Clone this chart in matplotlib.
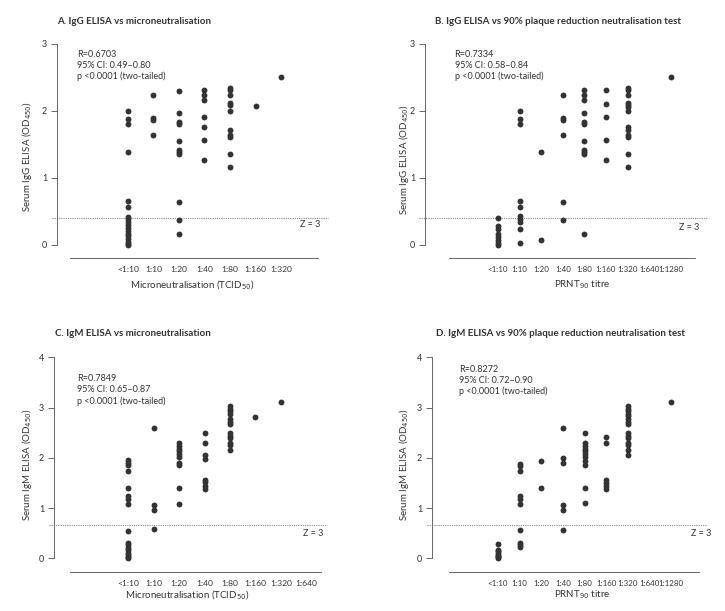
# scatter panels: ELISA OD vs neutralisation titres
import numpy as np
import matplotlib
matplotlib.use('Agg')
import matplotlib.pyplot as plt
import matplotlib.transforms as mtransforms

# data
mn_labels_a = ['<1:10', '1:10', '1:20', '1:40', '1:80', '1:160', '1:320']
mn_labels_c = ['<1:10', '1:10', '1:20', '1:40', '1:80', '1:160', '1:320', '1:640']
prnt_labels = ['<1:10', '1:10', '1:20', '1:40', '1:80', '1:160', '1:320', '1:640', '1:1280']

igg_mn = [
    [1.99, 1.87, 1.81, 1.38, 0.65, 0.56, 0.42, 0.38, 0.34, 0.29, 0.25, 0.21, 0.17,
     0.13, 0.09, 0.05, 0.02, 0.0],
    [2.23, 1.89, 1.86, 1.64],
    [2.30, 1.96, 1.83, 1.80, 1.55, 1.42, 1.38, 1.35, 0.64, 0.37, 0.16],
    [2.31, 2.23, 2.16, 1.90, 1.76, 1.56, 1.26],
    [2.34, 2.31, 2.23, 2.11, 2.09, 1.99, 1.71, 1.64, 1.61, 1.36, 1.16],
    [2.07],
    [2.50],
]
igg_prnt = [
    [0.40, 0.28, 0.24, 0.17, 0.12, 0.07, 0.03, 0.0],
    [1.99, 1.87, 1.81, 0.65, 0.56, 0.43, 0.39, 0.34, 0.23, 0.03],
    [1.38, 0.08],
    [2.23, 1.89, 1.86, 1.64, 0.64, 0.37],
    [2.31, 2.23, 2.16, 1.96, 1.83, 1.80, 1.55, 1.42, 1.38, 1.35, 0.16],
    [2.31, 2.10, 1.90, 1.56, 1.26],
    [2.34, 2.31, 2.23, 2.11, 2.09, 2.06, 1.99, 1.76, 1.71, 1.64, 1.61, 1.36, 1.16],
    [],
    [2.50],
]
igm_mn = [
    [1.96, 1.90, 1.85, 1.74, 1.39, 1.23, 1.18, 1.09, 0.55, 0.31, 0.26, 0.21, 0.16,
     0.11, 0.07, 0.03, 0.0],
    [2.60, 1.06, 0.97, 0.58],
    [2.29, 2.24, 2.18, 2.13, 2.08, 2.01, 1.90, 1.86, 1.39, 1.09],
    [2.49, 2.30, 2.06, 1.97, 1.56, 1.51, 1.44, 1.38],
    [3.03, 2.98, 2.94, 2.87, 2.77, 2.72, 2.67, 2.49, 2.43, 2.39, 2.30, 2.25, 2.15],
    [2.82],
    [3.12],
    [],
]
igm_prnt = [
    [0.28, 0.17, 0.14, 0.10, 0.07, 0.04, 0.02, 0.0],
    [1.88, 1.83, 1.74, 1.23, 1.18, 1.09, 0.56, 0.31, 0.27, 0.22],
    [1.94, 1.39],
    [2.59, 2.00, 1.89, 1.06, 0.97, 0.57],
    [2.49, 2.29, 2.24, 2.18, 2.13, 2.08, 2.01, 1.94, 1.86, 1.39, 1.10],
    [2.42, 2.30, 1.56, 1.50, 1.44, 1.38],
    [3.03, 2.98, 2.94, 2.88, 2.83, 2.77, 2.72, 2.67, 2.49, 2.43, 2.39, 2.30, 2.25,
     2.15, 2.05],
    [],
    [3.12],
]

stats_a = 'R=0.6703\n95% CI: 0.49–0.80\np <0.0001 (two-tailed)'
stats_b = 'R=0.7334\n95% CI: 0.58–0.84\np <0.0001 (two-tailed)'
stats_c = 'R=0.7849\n95% CI: 0.65–0.87\np <0.0001 (two-tailed)'
stats_d = 'R=0.8272\n95% CI: 0.72–0.90\np <0.0001 (two-tailed)'

cutoff_igg = 0.4
cutoff_igm = 0.66

W, H = 725, 611
TXT = '#333333'
DOT = '#333333'
plt.rcParams['font.family'] = ['Lato', 'DejaVu Sans']

fig = plt.figure(figsize=(W / 100, H / 100), dpi=100)


def px_axes(left, right, top, bottom):
    # axes box given in pixels from the top-left corner
    return fig.add_axes([left / W, 1 - bottom / H, (right - left) / W, (bottom - top) / H])


def fig_text(x, y, s, **kw):
    fig.text(x / W, 1 - y / H, s, color=TXT, **kw)


def draw_panel(ax, values, labels, xlim, xbounds, ylim, ytop, cutoff, stats_xy, stats, z_xy,
               xfs=6.1):
    for i, vals in enumerate(values):
        ax.scatter(np.full(len(vals), i), vals, s=18, color=DOT, linewidths=0, zorder=3)
    ax.set_xlim(*xlim)
    ax.set_ylim(*ylim)
    ax.set_xticks(range(len(labels)))
    ax.set_xticklabels(labels, fontsize=xfs, color=TXT)
    ax.tick_params(axis='x', length=0, pad=6)
    ax.set_yticks(range(0, ytop + 1))
    ax.tick_params(axis='y', length=4, width=0.7, color='#666666', labelsize=6.5,
                   labelcolor=TXT, pad=3)
    for side in ['top', 'right']:
        ax.spines[side].set_visible(False)
    ax.spines['left'].set_bounds(0, ytop)
    ax.spines['bottom'].set_bounds(*xbounds)
    for side in ['left', 'bottom']:
        ax.spines[side].set_color('#666666')
        ax.spines[side].set_linewidth(0.7)
    # Z = 3 cut-off
    trans = mtransforms.blended_transform_factory(ax.transAxes, ax.transData)
    ax.plot([-0.02, 1.0], [cutoff, cutoff], transform=trans, color='#888888',
            lw=0.8, ls=(0, (1, 1)), clip_on=False, zorder=1)
    ax.text(z_xy[0], z_xy[1], 'Z = 3', transform=ax.transAxes, fontsize=6.5,
            color=TXT, va='center', ha='left')
    ax.text(stats_xy[0], stats_xy[1], stats, transform=ax.transAxes, fontsize=6.5,
            color=TXT, va='top', ha='left', linespacing=1.25)


# A
ax_a = px_axes(57, 328, 43.7, 258)
draw_panel(ax_a, igg_mn, mn_labels_a, (-2.78, 7.84), (-2.27, 7.45), (-0.195, 3.0), 3,
           cutoff_igg, (0.075, 0.97), stats_a, (0.895, 0.154))
# B
ax_b = px_axes(425, 707, 43.7, 258)
draw_panel(ax_b, igg_prnt, prnt_labels, (-3.38, 9.68), (-2.27, 9.12), (-0.195, 3.0), 3,
           cutoff_igg, (0.105, 0.97), stats_b, (0.9, 0.14), xfs=5.7)
# C
ax_c = px_axes(54, 326, 357.3, 571.7)
draw_panel(ax_c, igm_mn, mn_labels_c, (-2.93, 7.78), (-2.30, 7.57), (-0.267, 4.0), 4,
           cutoff_igm, (0.085, 0.92), stats_c, (0.915, 0.176))
# D
ax_d = px_axes(432, 706, 357.3, 571.7)
draw_panel(ax_d, igm_prnt, prnt_labels, (-3.05, 9.6), (-2.27, 9.28), (-0.267, 4.0), 4,
           cutoff_igm, (0.1, 0.965), stats_d, (0.945, 0.176), xfs=5.7)

# titles
fig_text(57, 21, 'A. IgG ELISA vs microneutralisation', fontsize=7, fontweight='bold', va='center')
fig_text(435, 21, 'B. IgG ELISA vs 90% plaque reduction neutralisation test', fontsize=7,
         fontweight='bold', va='center')
fig_text(55, 334, 'C. IgM ELISA vs microneutralisation', fontsize=7, fontweight='bold', va='center')
fig_text(436, 334, 'D. IgM ELISA vs 90% plaque reduction neutralisation test', fontsize=7,
         fontweight='bold', va='center')

# axis labels
fig_text(27, 157, 'Serum IgG ELISA (OD$_{450}$)', fontsize=7, rotation=90, ha='center', va='center')
fig_text(404, 160, 'Serum IgG ELISA (OD$_{450}$)', fontsize=7, rotation=90, ha='center', va='center')
fig_text(27, 465, 'Serum IgM ELISA (OD$_{450}$)', fontsize=7, rotation=90, ha='center', va='center')
fig_text(404, 465, 'Serum IgM ELISA (OD$_{450}$)', fontsize=7, rotation=90, ha='center', va='center')
fig_text(192, 285, 'Microneutralisation (TCID$_{50}$)', fontsize=7, ha='center', va='center')
fig_text(582, 285, 'PRNT$_{90}$ titre', fontsize=7, ha='center', va='center')
fig_text(187, 595, 'Microneutralisation (TCID$_{50}$)', fontsize=7, ha='center', va='center')
fig_text(582, 595, 'PRNT$_{90}$ titre', fontsize=7, ha='center', va='center')

fig.savefig('out.png', dpi=100)
